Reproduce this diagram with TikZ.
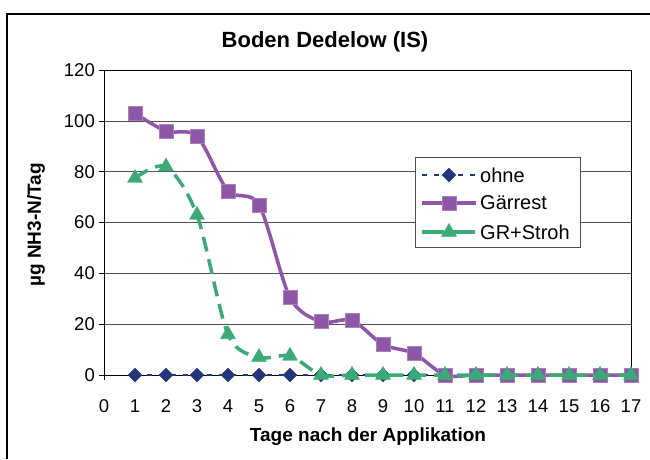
\documentclass[tikz,border=0pt]{standalone}
\usepackage{fontspec}
\setmainfont{Liberation Sans}
\usetikzlibrary{plotmarks}
\definecolor{cpurple}{HTML}{8E56A6}
\definecolor{cgreen}{HTML}{3BAA77}
\definecolor{cblue}{HTML}{24367A}
\definecolor{cgrid}{HTML}{505050}
\tikzset{
  ticklab/.style={font=\fontsize{18.5}{21}\selectfont, inner sep=0pt},
  axlab/.style={font=\bfseries\fontsize{19}{22}\selectfont},
  leglab/.style={font=\fontsize{20}{23}\selectfont, anchor=west, inner sep=0pt},
  ohneline/.style={cblue, line width=2.5pt, dash pattern=on 5pt off 7pt},
  garline/.style={cpurple, line width=3.5pt},
  grline/.style={cgreen, line width=3.5pt, dash pattern=on 15pt off 8pt},
  ohnemark/.style={only marks, mark=square*, mark size=4.9pt, mark options={solid, fill=cblue, draw=cblue, rotate=45}},
  garmark/.style={only marks, mark=square*, mark size=7pt, mark options={solid, fill=cpurple, draw=cpurple!75!white}},
  grmark/.style={only marks, mark=triangle*, mark size=8.6pt, mark options={solid, fill=cgreen, draw=cgreen}},
}
\begin{document}
\begin{tikzpicture}[x=1pt,y=1pt]
\useasboundingbox (0,0) rectangle (650,459);
\fill[white] (0,0) rectangle (650,459);
\draw[line width=2pt] (7,0) -- (7,445) -- (650,445);
\node[font=\bfseries\fontsize{22}{26}\selectfont] (title) at (325,417) {Boden Dedelow (IS)};
\node[axlab] (xlabel) at (368,22) {Tage nach der Applikation};
\node[axlab, rotate=90] (ylabel) at (36,234) {µg NH3-N/Tag};
\begin{scope}[shift={(104,84)}, x=31pt, y=2.54pt]
  \foreach \v in {20,40,...,100} \draw[cgrid, line width=1pt] (0,\v) -- (17,\v);
  \draw[line width=1pt] (0,120) -- (17,120) -- (17,0);
  \draw[line width=1pt] (0,120) -- (0,0) -- (17,0);
  \foreach \v in {0,20,...,120} {
    \draw[line width=1pt] (0,\v) -- ++(-5pt,0);
    \node[ticklab, anchor=east] (yt\v) at ([xshift=-9pt]0,\v) {\v};
  }
  \foreach \d in {0,...,17} {
    \draw[line width=1pt] (\d,0) -- ++(0,-5pt);
    \node[ticklab] (xt\d) at ([yshift=-31pt]\d,0) {\d};
  }
  % ohne
  \draw[ohneline] (1,0) -- (17,0);
  \path plot[ohnemark] coordinates {(1,0)(2,0)(3,0)(4,0)(5,0)(6,0)(7,0)(8,0)(9,0)(10,0)(11,0)(12,0)(13,0)(14,0)(15,0)(16,0)(17,0)};
  % Gaerrest
  \draw[garline] plot[smooth, tension=0.5] coordinates {(1,103)(2,96)(3,94)(4,72.5)(5,67)(6,30.5)(7,21)(8,21.5)(9,12)(10,8.5)(11,0)(12,0)(13,0)(14,0)(15,0)(16,0)(17,0)};
  \path plot[garmark] coordinates {(1,103)(2,96)(3,94)(4,72.5)(5,67)(6,30.5)(7,21)(8,21.5)(9,12)(10,8.5)(11,0)(12,0)(13,0)(14,0)(15,0)(16,0)(17,0)};
  % GR+Stroh
  \draw[grline] plot[smooth, tension=0.5] coordinates {(1,77.5)(2,82)(3,63)(4,16)(5,7)(6,7.5)(7,0)(8,0)(9,0)(10,0)(11,0)(12,0)(13,0)(14,0)(15,0)(16,0)(17,0)};
  \path plot[grmark] coordinates {(1,77.5)(2,82)(3,63)(4,16)(5,7)(6,7.5)(7,0)(8,0)(9,0)(10,0)(11,0)(12,0)(13,0)(14,0)(15,0)(16,0)(17,0)};
\end{scope}
% legend
\node[draw=cgrid, line width=1pt, fill=white, minimum width=165pt, minimum height=90pt, inner sep=0pt] (legend) at (497.5,257) {};
\coordinate (l1a) at (422,284); \coordinate (l1b) at (476,284);
\coordinate (l2a) at (422,256); \coordinate (l2b) at (476,256);
\coordinate (l3a) at (422,227); \coordinate (l3b) at (476,227);
\draw[ohneline] (l1a) -- (l1b);
\path plot[ohnemark] coordinates {(449,284)};
\draw[garline] (l2a) -- (l2b);
\path plot[garmark] coordinates {(449,256)};
\draw[grline, dash pattern=on 22pt off 9pt] (l3a) -- (l3b);
\path plot[grmark] coordinates {(449,227)};
\node[leglab] (t1) at (480,284) {ohne};
\node[leglab] (t2) at (480,256) {Gärrest};
\node[leglab] (t3) at (480,227) {GR+Stroh};
\end{tikzpicture}
\end{document}
